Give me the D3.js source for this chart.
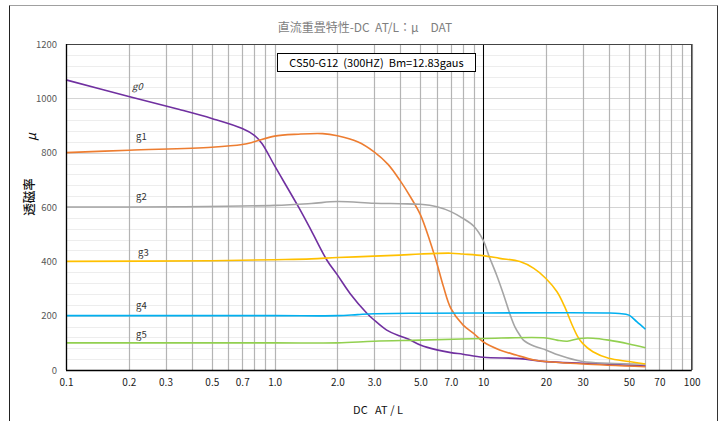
<!DOCTYPE html>
<html><head><meta charset="utf-8">
<script src="https://cdn.jsdelivr.net/npm/d3@7"></script>
<style>
html,body{margin:0;padding:0;background:#fff;}
svg{display:block;}
text{font-family:"Noto Sans CJK JP","Noto Sans",sans-serif;white-space:pre;}
</style></head>
<body><svg id="c" width="723" height="421"></svg>
<script>
// ---- data ----
const seriesNames = ["g0","g1","g2","g3","g4","g5"];
const seriesColors = ["#7030A0","#ED7D31","#A5A5A5","#FFC000","#00B0F0","#92D050"];
const g0X = [0.1,0.2,0.35,0.5,0.7,0.8,0.87,1.0,1.3,1.5,1.78,2.0,2.3,2.77,3.0,3.45,4.0,4.4,5,6,7,8,10,15,20,30,40,60];
const g0Y = [1068,1007,959,926,889,864,834,752,601,513,405,350,282,209,184,147,125,113,92,74,64,58,47,42,31,25,21,15];
const g1X = [0.1,0.2,0.5,0.7,0.8,1.0,1.3,1.7,2.0,2.5,3.0,3.5,4.0,4.5,5,5.54,6,6.45,7,8,9,10,12,14.4,17.5,20,30,60];
const g1Y = [800,809,820,830,840,861,868,870,862,840,803,757,697,635,572,478,393,307,227,166,135,104,74,55,37,31,22,12];
const g2X = [0.1,0.35,1.0,1.5,2.0,3.0,4.0,5,6,7,8,9,10,10.7,11.6,12.5,13.4,14.2,15,15.6,17.5,20,23,30,40,60];
const g2Y = [600,601,606,613,620,614,612,610,601,583,558,530,478,417,350,280,209,159,128,110,88,74,55,31,25,22];
const g3X = [0.1,0.5,1.0,1.5,2.0,3.0,4.0,5,7,8,10,12,15,17.5,20,22.6,24.6,26.5,28.4,30,33.6,40,50,60];
const g3Y = [400,402,406,409,414,419,423,427,430,427,421,411,399,374,337,288,233,172,123,98,67,43,31,22];
const g4X = [0.1,1.0,2.0,2.5,3,5,10,40,45,50,54.5,60];
const g4Y = [200,200,200,204,207,209,210,210,208,202,178,150];
const g5X = [0.1,1.0,2.0,3,5,10,20,22.6,25.3,29,33.6,40,50,60];
const g5Y = [100,100,100,106,110,116,118,110,106,116,117,110,96,82];
const labelX = [0.22,0.23,0.23,0.235,0.23,0.23];
const labelY = [1030,846,626,420,224,118];
const xTickValues = [0.1,0.2,0.3,0.5,0.7,1,2,3,5,7,10,20,30,50,70,100];
const xTickLabels = ["0.1","0.2","0.3","0.5","0.7","1.0","2.0","3.0","5.0","7.0","10","20","30","50","70","100"];
const yTickValues = [0,200,400,600,800,1000,1200];
const titleText = "直流重畳特性-DC  AT/L：μ　DAT";
const legendText = "CS50-G12  (300HZ)  Bm=12.83gaus";
const xTitle = "DC   AT / L";
const markerX = 10;

const seriesX = [g0X,g1X,g2X,g3X,g4X,g5X];
const seriesY = [g0Y,g1Y,g2Y,g3Y,g4Y,g5Y];

// ---- layout ----
const L = 66, R = 691.7, T = 44, B = 370;
const svg = d3.select("#c");
const x = d3.scaleLog().domain([0.1,100]).range([L,R]);
const y = d3.scaleLinear().domain([0,1200]).range([B,T]);

// outer frame
svg.append("line").attr("x1",9.5).attr("x2",717.5).attr("y1",5.5).attr("y2",5.5).attr("stroke","#a0a0a0");
svg.append("line").attr("x1",9.5).attr("x2",9.5).attr("y1",5.5).attr("y2",421).attr("stroke","#222");
svg.append("line").attr("x1",717.5).attr("x2",717.5).attr("y1",5.5).attr("y2",421).attr("stroke","#333");

// horizontal grid
const hMinor = d3.range(0,1201,40);
svg.append("g").selectAll("line").data(hMinor).join("line")
  .attr("x1",L).attr("x2",R)
  .attr("y1",d=>Math.round(y(d))+0.5).attr("y2",d=>Math.round(y(d))+0.5)
  .attr("stroke",d=>d%200===0?"#d4d4d4":"#ededed").attr("stroke-width",1);

// vertical grid
const vGrid = [];
[0.1,1,10].forEach(dec=>{for(let k=1;k<=9;k++) vGrid.push(dec*k);});
vGrid.push(100);
svg.append("g").selectAll("line").data(vGrid).join("line")
  .attr("x1",d=>Math.round(x(d))+0.5).attr("x2",d=>Math.round(x(d))+0.5)
  .attr("y1",T).attr("y2",B)
  .attr("stroke","#b4b4b4").attr("stroke-width",1.2);

// marker line at 10
svg.append("line").attr("x1",Math.round(x(markerX))+0.5).attr("x2",Math.round(x(markerX))+0.5)
  .attr("y1",T).attr("y2",B).attr("stroke","#000").attr("stroke-width",1);

// plot border
svg.append("line").attr("x1",L).attr("x2",R).attr("y1",T+0.5).attr("y2",T+0.5).attr("stroke","#444").attr("stroke-width",1.2);
svg.append("line").attr("x1",R).attr("x2",R).attr("y1",T).attr("y2",B).attr("stroke","#444").attr("stroke-width",1.4);

// series
const line = d3.line().x(d=>x(d[0])).y(d=>y(d[1])).curve(d3.curveCatmullRom.alpha(0.5));
seriesNames.forEach((n,i)=>{
  const pts = seriesX[i].map((v,j)=>[v,seriesY[i][j]]);
  svg.append("path").datum(pts).attr("d",line).attr("fill","none")
    .attr("stroke",seriesColors[i]).attr("stroke-width",1.6).attr("stroke-linejoin","round");
});

// axis lines
svg.append("line").attr("x1",L).attr("x2",R).attr("y1",B+0.5).attr("y2",B+0.5).attr("stroke","#000").attr("stroke-width",1.3);
svg.append("line").attr("x1",L+0.5).attr("x2",L+0.5).attr("y1",T).attr("y2",B).attr("stroke","#000").attr("stroke-width",1.3);

// series labels
seriesNames.forEach((n,i)=>{
  svg.append("text").attr("x",x(labelX[i])).attr("y",y(labelY[i]))
    .attr("text-anchor","middle").attr("font-size",9.5).attr("fill","#333")
    .attr("font-style",i===0?"italic":"normal")
    .attr("font-family","Liberation Sans, Arial, sans-serif")
    .text(n);
});

// x axis
const xa = svg.append("g").attr("transform",`translate(0,${B})`)
  .call(d3.axisBottom(x).tickValues(xTickValues).tickSize(0).tickPadding(9)
    .tickFormat((d,i)=>xTickLabels[i]));
xa.select(".domain").remove();
xa.selectAll("text").attr("font-size",10).attr("fill","#222")
  .attr("font-family","DejaVu Sans Condensed, Liberation Sans, sans-serif");

// y axis
const ya = svg.append("g").attr("transform",`translate(${L},0)`)
  .call(d3.axisLeft(y).tickValues(yTickValues).tickSize(0).tickPadding(9).tickFormat(d3.format("d")));
ya.select(".domain").remove();
ya.selectAll("text").attr("font-size",9.5).attr("fill","#595959")
  .attr("font-family","Liberation Sans, Arial, sans-serif");

// title
svg.append("text").attr("x",365).attr("y",32).attr("text-anchor","middle")
  .attr("font-size",12).attr("fill","#7f7f7f").text(titleText);

// legend box
const bx = 277.5, by = 53.5, bw = 198, bh = 18;
svg.append("rect").attr("x",bx).attr("y",by).attr("width",bw).attr("height",bh)
  .attr("fill","#fff").attr("stroke","#000").attr("stroke-width",1);
svg.append("text").attr("x",bx+bw/2).attr("y",by+13).attr("text-anchor","middle")
  .attr("font-size",11).attr("fill","#000").text(legendText);

// axis titles
svg.append("text").attr("transform","translate(36,137) rotate(-90)").attr("text-anchor","middle")
  .attr("font-size",13).attr("font-style","italic").attr("fill","#111").text("μ");
svg.append("text").attr("transform","translate(34,197) rotate(-90)").attr("text-anchor","middle")
  .attr("font-size",12.5).attr("fill","#111").attr("font-weight","500").text("透磁率");
svg.append("text").attr("x",378).attr("y",414).attr("text-anchor","middle")
  .attr("font-size",11).attr("fill","#111").text(xTitle);
</script>
</body></html>
